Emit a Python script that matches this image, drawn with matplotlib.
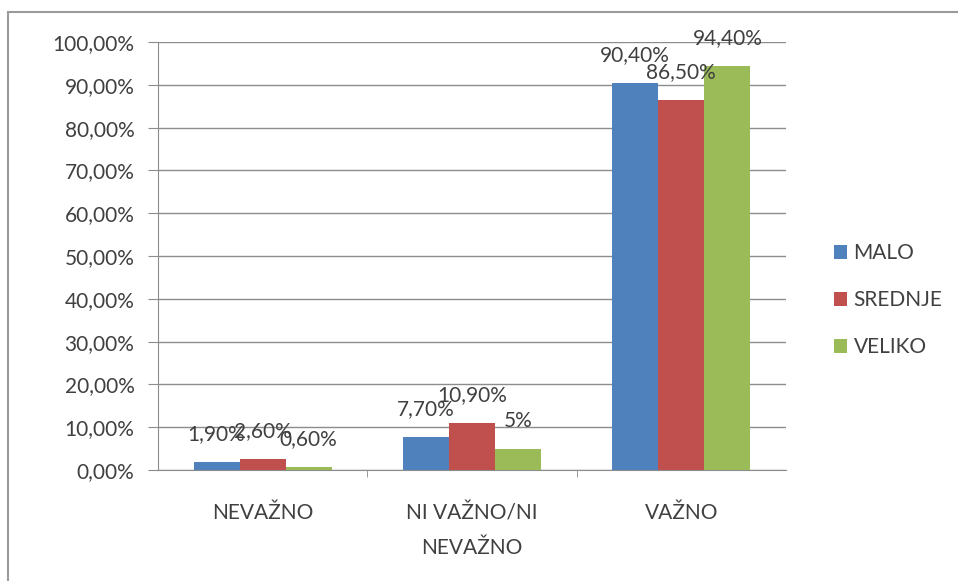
import matplotlib.pyplot as plt
import numpy as np
from matplotlib.patches import Rectangle

categories = ["NEVAŽNO", "NI VAŽNO/NI\nNEVAŽNO", "VAŽNO"]
series = ["MALO", "SREDNJE", "VELIKO"]
malo = [1.9, 7.7, 90.4]
srednje = [2.6, 10.9, 86.5]
veliko = [0.6, 5.0, 94.4]
malo_labels = ["1,90%", "7,70%", "90,40%"]
srednje_labels = ["2,60%", "10,90%", "86,50%"]
veliko_labels = ["0,60%", "5%", "94,40%"]
yticks = [0, 10, 20, 30, 40, 50, 60, 70, 80, 90, 100]

colors = ["#4F81BD", "#C0504D", "#9BBB59"]
text_color = "#404040"
fs = 15
plt.rcParams["font.family"] = ["Lato", "DejaVu Sans"]

fig = plt.figure(figsize=(9.58, 5.81), dpi=100)
fig.patches.append(Rectangle((8 / 958, -0.1), 1.2, (581 - 12) / 581 + 0.1,
                             transform=fig.transFigure, fill=False,
                             edgecolor="#9a9a9a", linewidth=1.5))
ax = fig.add_axes([158 / 958, (581 - 470) / 581, 628 / 958, 428 / 581])

x = np.arange(len(categories))
w = 0.22
all_vals = [malo, srednje, veliko]
all_labels = [malo_labels, srednje_labels, veliko_labels]
for i, (vals, labs) in enumerate(zip(all_vals, all_labels)):
    pos = x + (i - 1) * w
    ax.bar(pos, vals, width=w, color=colors[i], label=series[i], zorder=3)
    for p, v, t in zip(pos, vals, labs):
        ax.annotate(t, (p, v), xytext=(0, 13), textcoords="offset points",
                    ha="center", va="bottom", fontsize=fs, color=text_color, zorder=4)

ax.set_xlim(-0.5, 2.5)
ax.set_ylim(0, 100)
ax.set_yticks(yticks)
ax.set_yticklabels([f"{t},00%" for t in yticks], fontsize=fs, color=text_color)
ax.yaxis.grid(True, color="#8c8c8c", linewidth=1.0, zorder=0)
ax.set_xticks(x)
ax.set_xticklabels(categories, fontsize=fs, color=text_color, linespacing=1.9, va="top")
ax.set_xticks([0.5, 1.5], minor=True)
ax.tick_params(axis="x", which="major", length=0, pad=24)
ax.tick_params(axis="x", which="minor", length=5, color="#8c8c8c")
ax.tick_params(axis="y", length=7, color="#8c8c8c", pad=10)
for s in ["top", "right"]:
    ax.spines[s].set_visible(False)
ax.spines["left"].set_color("#8c8c8c")
ax.spines["bottom"].set_color("#8c8c8c")

handles, labels = ax.get_legend_handles_labels()
fig.legend(handles, labels, loc="center left", bbox_to_anchor=(815 / 958, 1 - 300 / 581),
           frameon=False, fontsize=fs, labelcolor=text_color, handlelength=0.65,
           handleheight=0.65, handletextpad=0.3, labelspacing=1.3)

fig.savefig("out.png", dpi=100)
